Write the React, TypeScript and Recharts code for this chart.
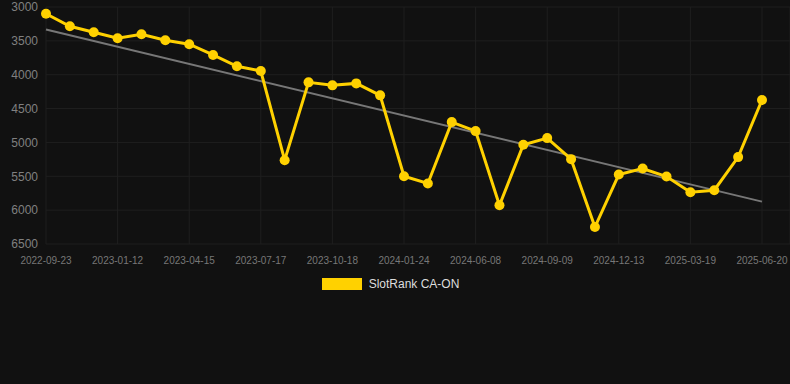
import React from 'react';
import {
  LineChart, Line, XAxis, YAxis, CartesianGrid, Legend,
} from 'recharts';

const dates = [
  '2022-09-23', '2022-10-30', '2022-12-06', '2023-01-12', '2023-02-12', '2023-03-15',
  '2023-04-15', '2023-05-16', '2023-06-16', '2023-07-17', '2023-08-17', '2023-09-17',
  '2023-10-18', '2023-11-20', '2023-12-22', '2024-01-24', '2024-03-09', '2024-04-24',
  '2024-06-08', '2024-07-09', '2024-08-09', '2024-09-09', '2024-10-11', '2024-11-12',
  '2024-12-13', '2025-01-14', '2025-02-15', '2025-03-19', '2025-04-19', '2025-05-20',
  '2025-06-20',
];

const ranks = [
  3100, 3284, 3373, 3461, 3402, 3491, 3550, 3708, 3875, 3945,
  5262, 4113, 4157, 4128, 4305, 5499, 5607, 4700, 4833, 5928,
  5035, 4936, 5247, 6249, 5474, 5385, 5504, 5735, 5706, 5217,
  4374,
];

// trend line: only its two end values, the rest is left empty
const trendStart = 3333;
const trendEnd = 5874;

const yTicks = [3000, 3500, 4000, 4500, 5000, 5500, 6000, 6500];

const data = dates.map((d, i) => ({
  date: d,
  rank: ranks[i],
  trend: i === 0 ? trendStart : i === dates.length - 1 ? trendEnd : null,
}));

const LegendBox = () => (
  <div style={{ display: 'flex', justifyContent: 'center', alignItems: 'center', height: 20, paddingRight: 9 }}>
    <span style={{ display: 'inline-block', width: 40, height: 12, background: '#FFD100', marginRight: 7 }} />
    <span style={{ color: '#dddddd', fontSize: 12, fontFamily: 'Liberation Sans, Arial, sans-serif' }}>SlotRank CA-ON</span>
  </div>
);

export default function App() {
  return (
    <div style={{ position: 'absolute', left: 0, top: 0, width: 790, height: 384, background: '#111111' }}>
      <LineChart
        width={790}
        height={384}
        data={data}
        margin={{ top: 7, right: 0, left: 0, bottom: 90 }}
        style={{ fontFamily: 'Liberation Sans, Arial, sans-serif' }}
      >
        <CartesianGrid stroke="#1f1f1f" strokeWidth={1} />
        <XAxis
          dataKey="date"
          interval={2}
          padding={{ left: 0, right: 28 }}
          axisLine={false}
          tickLine={false}
          tickMargin={7}
          tick={{ fontSize: 10, fill: '#777777' }}
          height={30}
        />
        <YAxis
          reversed
          domain={[3000, 6500]}
          ticks={yTicks}
          interval={0}
          width={46}
          axisLine={false}
          tickLine={false}
          tick={{ fontSize: 12, fill: '#808080' }}
        />
        <Legend verticalAlign="bottom" content={<LegendBox />} />
        <Line
          dataKey="trend"
          stroke="#777777"
          strokeWidth={2}
          dot={false}
          activeDot={false}
          connectNulls
          legendType="none"
          isAnimationActive={false}
        />
        <Line
          dataKey="rank"
          name="SlotRank CA-ON"
          stroke="#FFD100"
          strokeWidth={3}
          dot={{ r: 5, fill: '#FFD100', stroke: '#FFD100', strokeWidth: 0 }}
          activeDot={false}
          isAnimationActive={false}
        />
      </LineChart>
    </div>
  );
}
